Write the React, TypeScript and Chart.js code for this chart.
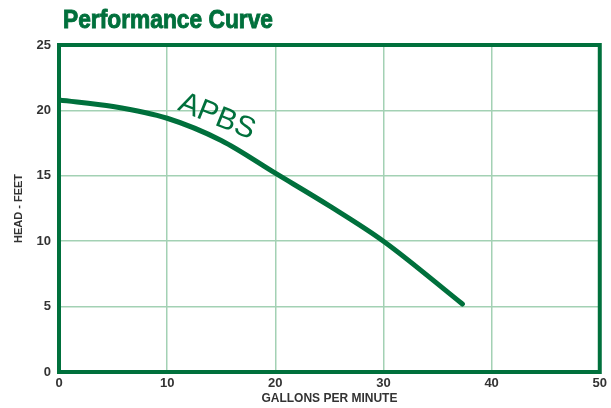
import React, { useEffect, useRef } from "react";
import { Chart, registerables } from "chart.js";

Chart.register(...registerables);

const gpm = [0, 5, 10, 15, 20, 25, 30, 37.3];
const headFeet = [20.8, 20.3, 19.4, 17.7, 15.2, 12.7, 10.0, 5.2];
const xTicks = [0, 10, 20, 30, 40, 50];
const yTicks = [0, 5, 10, 15, 20, 25];
const seriesName = "APBS";
const chartTitle = "Performance Curve";
const xTitle = "GALLONS PER MINUTE";
const yTitle = "HEAD - FEET";

const GREEN = "#00703c";
const GRID = "#a3d1b4";
const NARROW = "'Liberation Sans Narrow', 'Arial Narrow', 'Liberation Sans', Arial, sans-serif";

const decorPlugin = {
  id: "decor",
  beforeDatasetsDraw(chart: any) {
    const { ctx, chartArea } = chart;
    ctx.save();
    ctx.strokeStyle = GREEN;
    ctx.lineWidth = 4;
    ctx.strokeRect(chartArea.left, chartArea.top, chartArea.right - chartArea.left, chartArea.bottom - chartArea.top);
    ctx.restore();
  },
  afterDatasetsDraw(chart: any) {
    const { ctx, chartArea, scales } = chart;
    ctx.save();
    // title (condensed by horizontal scaling)
    ctx.fillStyle = GREEN;
    ctx.strokeStyle = GREEN;
    ctx.lineWidth = 0.9;
    ctx.font = "bold 25px 'Liberation Sans', Arial, sans-serif";
    ctx.textBaseline = "alphabetic";
    ctx.textAlign = "left";
    const w = ctx.measureText(chartTitle).width;
    const sx = 210 / w;
    ctx.save();
    ctx.translate(chartArea.left + 4, 28);
    ctx.scale(sx, 1);
    ctx.fillText(chartTitle, 0, 0);
    ctx.strokeText(chartTitle, 0, 0);
    ctx.restore();
    // series label
    const px = scales.x.getPixelForValue(14.6);
    const py = scales.y.getPixelForValue(19.5);
    ctx.translate(px, py);
    ctx.rotate((22 * Math.PI) / 180);
    ctx.font = "30px 'Liberation Sans', Arial, sans-serif";
    ctx.textAlign = "center";
    ctx.textBaseline = "middle";
    ctx.fillText(seriesName, 0, 0);
    ctx.restore();
  },
};

export default function App() {
  const ref = useRef<HTMLCanvasElement | null>(null);
  useEffect(() => {
    if (!ref.current) return;
    const chart = new Chart(ref.current, {
      type: "line",
      data: {
        datasets: [
          {
            label: seriesName,
            data: gpm.map((g, i) => ({ x: g, y: headFeet[i] })),
            borderColor: GREEN,
            borderWidth: 5,
            pointRadius: 0,
            tension: 0.4,
            cubicInterpolationMode: "monotone",
            borderCapStyle: "round",
            fill: false,
          },
        ],
      },
      options: {
        animation: false,
        responsive: false,
        maintainAspectRatio: false,
        layout: { padding: { top: 45, right: 8, bottom: 2, left: 4 } },
        plugins: { legend: { display: false }, tooltip: { enabled: false }, title: { display: false } },
        scales: {
          x: {
            type: "linear",
            min: 0,
            max: 50,
            afterBuildTicks: (s: any) => {
              s.ticks = xTicks.map((v) => ({ value: v }));
            },
            grid: { color: GRID, lineWidth: 1.5, drawTicks: false },
            border: { display: false },
            ticks: { color: "#333", font: { family: NARROW, weight: "bold", size: 13 }, padding: 4, maxRotation: 0 },
            title: { display: true, text: xTitle, color: "#333", font: { family: NARROW, weight: "bold", size: 12 }, padding: { top: 0, bottom: 0 } },
            afterFit: (s: any) => {
              s.height = 34;
            },
          },
          y: {
            min: 0,
            max: 25,
            afterBuildTicks: (s: any) => {
              s.ticks = yTicks.map((v) => ({ value: v }));
            },
            grid: { color: GRID, lineWidth: 1.5, drawTicks: false },
            border: { display: false },
            ticks: { color: "#333", font: { family: NARROW, weight: "bold", size: 13 }, padding: 8 },
            title: { display: true, text: yTitle, color: "#333", font: { family: NARROW, weight: "bold", size: 11 }, padding: { top: 8, bottom: 0 } },
            afterFit: (s: any) => {
              s.width = 55;
            },
          },
        },
      } as any,
      plugins: [decorPlugin],
    });
    return () => chart.destroy();
  }, []);
  return (
    <div style={{ position: "fixed", left: 0, top: 0, width: 611, height: 408, background: "#fff" }}>
      <canvas ref={ref} width={611} height={408} style={{ width: 611, height: 408 }} />
    </div>
  );
}
